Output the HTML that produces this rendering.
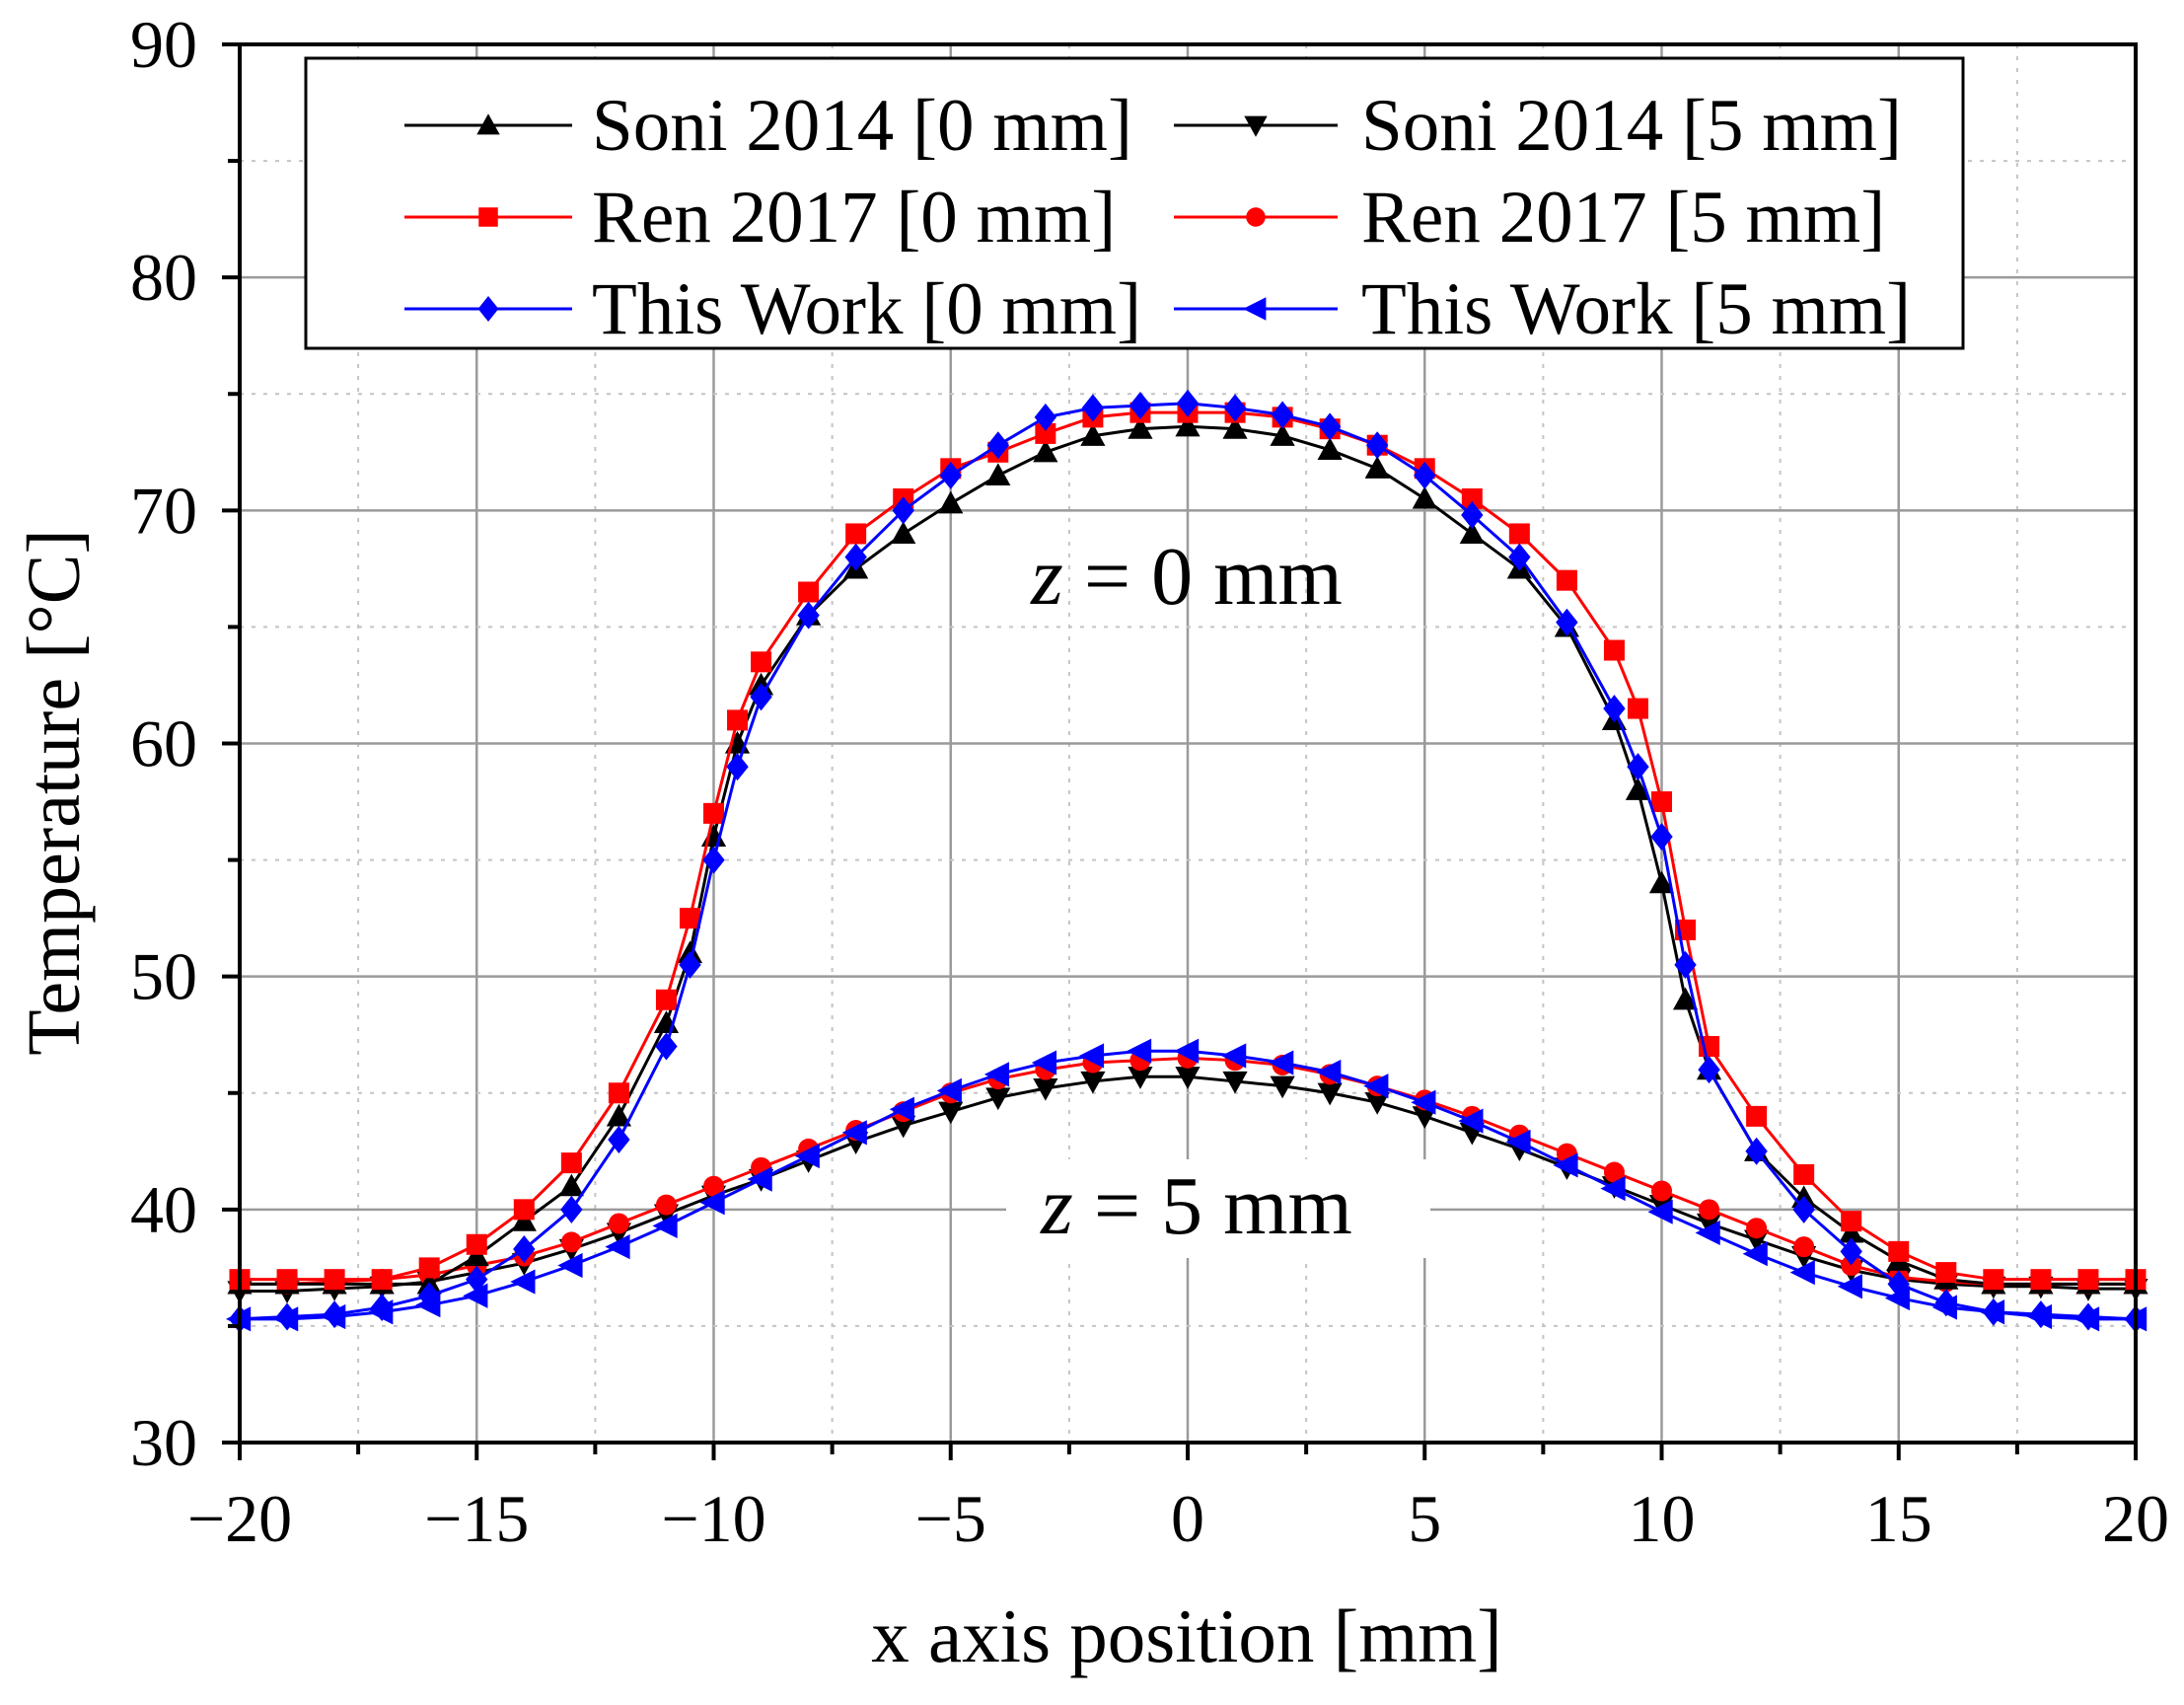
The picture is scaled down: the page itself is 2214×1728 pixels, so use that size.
<!DOCTYPE html>
<html><head><meta charset="utf-8"><style>
html,body{margin:0;padding:0;background:#fff;}
svg text{font-family:"Liberation Serif",serif;fill:#000;}
</style></head><body>
<svg id="chart" width="2214" height="1723" xmlns="http://www.w3.org/2000/svg">
<g id="grid"></g>
<g id="series"></g>
<g id="axes"></g>
<g id="legend"></g>
</svg>
<script>
const xTicks=[-20,-15,-10,-5,0,5,10,15,20];
const yTicks=[30,40,50,60,70,80,90];
const xTickLabels=["\u221220","\u221215","\u221210","\u22125","0","5","10","15","20"];
const soni0X=[-20,-19,-18,-17,-16,-15,-14,-13,-12,-11,-10.5,-10,-9.5,-9,-8,-7,-6,-5,-4,-3,-2,-1,0,1,2,3,4,5,6,7,8,9,9.5,10,10.5,11,12,13,14,15,16,17,18,19,20];
const soni0Y=[36.8,36.8,36.8,36.8,36.8,38,39.5,41,44,48,51,56,60,62.5,65.5,67.5,69,70.3,71.5,72.5,73.2,73.5,73.6,73.5,73.2,72.6,71.8,70.5,69,67.5,65,61,58,54,49,46,42.5,40.5,39,37.8,37,36.8,36.8,36.8,36.8];
const ren0X=[-20,-19,-18,-17,-16,-15,-14,-13,-12,-11,-10.5,-10,-9.5,-9,-8,-7,-6,-5,-4,-3,-2,-1,0,1,2,3,4,5,6,7,8,9,9.5,10,10.5,11,12,13,14,15,16,17,18,19,20];
const ren0Y=[37,37,37,37,37.5,38.5,40,42,45,49,52.5,57,61,63.5,66.5,69,70.5,71.8,72.5,73.3,74,74.2,74.2,74.2,74,73.5,72.8,71.8,70.5,69,67,64,61.5,57.5,52,47,44,41.5,39.5,38.2,37.3,37,37,37,37];
const work0X=[-20,-19,-18,-17,-16,-15,-14,-13,-12,-11,-10.5,-10,-9.5,-9,-8,-7,-6,-5,-4,-3,-2,-1,0,1,2,3,4,5,6,7,8,9,9.5,10,10.5,11,12,13,14,15,16,17,18,19,20];
const work0Y=[35.3,35.4,35.5,35.8,36.3,37,38.3,40,43,47,50.5,55,59,62,65.5,68,70,71.5,72.8,74,74.4,74.5,74.6,74.4,74.1,73.6,72.8,71.5,69.8,68,65.2,61.5,59,56,50.5,46,42.5,40,38.2,36.8,36,35.6,35.5,35.4,35.3];
const soni5X=[-20,-19,-18,-17,-16,-15,-14,-13,-12,-11,-10,-9,-8,-7,-6,-5,-4,-3,-2,-1,0,1,2,3,4,5,6,7,8,9,10,11,12,13,14,15,16,17,18,19,20];
const soni5Y=[36.5,36.5,36.6,36.7,36.9,37.3,37.7,38.3,39,39.8,40.6,41.3,42.1,42.9,43.6,44.2,44.8,45.2,45.5,45.7,45.7,45.5,45.3,45,44.6,44,43.3,42.6,41.8,41,40.2,39.4,38.7,38,37.4,37,36.8,36.7,36.7,36.6,36.6];
const ren5X=[-20,-19,-18,-17,-16,-15,-14,-13,-12,-11,-10,-9,-8,-7,-6,-5,-4,-3,-2,-1,0,1,2,3,4,5,6,7,8,9,10,11,12,13,14,15,16,17,18,19,20];
const ren5Y=[36.8,36.8,36.9,37,37.2,37.6,38,38.6,39.4,40.2,41,41.8,42.6,43.4,44.2,45,45.6,46,46.3,46.4,46.5,46.4,46.2,45.8,45.3,44.7,44,43.2,42.4,41.6,40.8,40,39.2,38.4,37.6,37.1,36.9,36.8,36.8,36.8,36.8];
const work5X=[-20,-19,-18,-17,-16,-15,-14,-13,-12,-11,-10,-9,-8,-7,-6,-5,-4,-3,-2,-1,0,1,2,3,4,5,6,7,8,9,10,11,12,13,14,15,16,17,18,19,20];
const work5Y=[35.3,35.3,35.4,35.6,35.9,36.3,36.9,37.6,38.4,39.3,40.3,41.3,42.3,43.3,44.3,45.1,45.8,46.3,46.6,46.8,46.8,46.6,46.3,45.9,45.3,44.6,43.8,42.9,41.9,40.9,39.9,39,38.1,37.3,36.7,36.2,35.8,35.6,35.4,35.3,35.3];

const NS="http://www.w3.org/2000/svg";
const L=243,R=2165,T=45,B=1462;
const sx=v=>L+(v+20)/40*(R-L);
const sy=v=>B-(v-30)/60*(B-T);
function mk(tag,attrs,parent){const e=document.createElementNS(NS,tag);for(const k in attrs)e.setAttribute(k,attrs[k]);parent.appendChild(e);return e;}
const grid=document.getElementById('grid'),axes=document.getElementById('axes'),ser=document.getElementById('series'),leg=document.getElementById('legend');

for(let v=-20;v<=20;v+=2.5){
  if(v===-20||v===20)continue;
  const major=(v%5===0);
  const g=mk('line',{x1:sx(v),x2:sx(v),y1:T,y2:B,stroke:major?'#9a9a9a':'#c4c4c4','stroke-width':major?2.5:2,'stroke-dasharray':major?'none':'4,8'},grid);
  
  
}
for(let v=35;v<90;v+=5){
  const major=(v%10===0);
  const g=mk('line',{x1:L,x2:R,y1:sy(v),y2:sy(v),stroke:major?'#9a9a9a':'#c4c4c4','stroke-width':major?2.5:2,'stroke-dasharray':major?'none':'4,8'},grid);
  
  
}

function marker(type,x,y,color,parent,k){
  k=k||1.4;const s=9*k;let e;
  if(type==='up')e=mk('polygon',{points:`${x},${y-s} ${x-s},${y+s*0.8} ${x+s},${y+s*0.8}`,fill:color},parent);
  else if(type==='down')e=mk('polygon',{points:`${x},${y+s} ${x-s},${y-s*0.8} ${x+s},${y-s*0.8}`,fill:color},parent);
  else if(type==='square')e=mk('rect',{x:x-7.5*k,y:y-7.5*k,width:15*k,height:15*k,fill:color},parent);
  else if(type==='circle')e=mk('circle',{cx:x,cy:y,r:7.5*k,fill:color},parent);
  else if(type==='diamond')e=mk('polygon',{points:`${x},${y-10*k} ${x+8*k},${y} ${x},${y+10*k} ${x-8*k},${y}`,fill:color},parent);
  else if(type==='left')e=mk('polygon',{points:`${x-10*k},${y} ${x+8*k},${y-9*k} ${x+8*k},${y+9*k}`,fill:color},parent);
  return e;
}
function series(name,xs,ys,color,type){
  const g=mk('g',{},ser);
  
  
  const p=mk('polyline',{points:xs.map((x,i)=>sx(x)+','+sy(ys[i])).join(' '),fill:'none',stroke:color,'stroke-width':3},g);
  
  
  xs.forEach((x,i)=>{
    const m=marker(type,sx(x),sy(ys[i]),color,g);
    
    
  });
}
series('soni-2014-5mm',soni5X,soni5Y,'#000','down');
series('ren-2017-5mm',ren5X,ren5Y,'#ff0000','circle');
series('this-work-5mm',work5X,work5Y,'#0000ff','left');
series('soni-2014-0mm',soni0X,soni0Y,'#000','up');
series('ren-2017-0mm',ren0X,ren0Y,'#ff0000','square');
series('this-work-0mm',work0X,work0Y,'#0000ff','diamond');

function ann(name,x,y,txt){
  const t=mk('text',{x:x,y:y,'font-size':84,'text-anchor':'middle'},axes);
  t.innerHTML='<tspan font-style="italic">z</tspan> = '+txt;
  
  
}
ann('z0-annotation',1203,612,'0 mm');
const bg=mk('rect',{x:1020,y:1175,width:430,height:100,fill:'#fff'},axes);


ann('z5-annotation',1213,1250,'5 mm');

const fr=mk('rect',{x:L,y:T,width:R-L,height:B-T,fill:'none',stroke:'#000','stroke-width':4},axes);


for(let v=-20;v<=20;v+=2.5){
  const major=(v%5===0);
  const t=mk('line',{x1:sx(v),x2:sx(v),y1:B,y2:B+(major?18:12),stroke:'#000','stroke-width':4},axes);
  
  
}
for(let v=30;v<=90;v+=5){
  const major=(v%10===0);
  const t=mk('line',{x1:L-(major?18:12),x2:L,y1:sy(v),y2:sy(v),stroke:'#000','stroke-width':4},axes);
  
  
}
xTicks.forEach((v,i)=>{
  const t=mk('text',{x:sx(v),y:1562,'font-size':68,'text-anchor':'middle'},axes);
  t.textContent=xTickLabels[i];
  
  
});
yTicks.forEach(v=>{
  const t=mk('text',{x:200,y:sy(v)+23,'font-size':68,'text-anchor':'end'},axes);
  t.textContent=String(v);
  
  
});
const xt=mk('text',{x:1203,y:1684,'font-size':77,'text-anchor':'middle'},axes);
xt.textContent='x axis position [mm]';


const yt=mk('text',{x:0,y:0,'font-size':76,'text-anchor':'middle',transform:'translate(80,803) rotate(-90)'},axes);
yt.textContent='Temperature [\u00B0C]';



const lb=mk('rect',{x:310,y:59,width:1680,height:294,fill:'#fff',stroke:'#000','stroke-width':3},leg);


const legNames=['Soni 2014 [0 mm]','Ren 2017 [0 mm]','This Work [0 mm]','Soni 2014 [5 mm]','Ren 2017 [5 mm]','This Work [5 mm]'];
const legColors=['#000','#ff0000','#0000ff','#000','#ff0000','#0000ff'];
const legTypes=['up','square','diamond','down','circle','left'];
const rowsY=[127,220,313];
legNames.forEach((n,i)=>{
  const col=Math.floor(i/3),row=i%3;
  const x0=col?1190:410,x1=col?1356:580,tx=col?1380:600,y=rowsY[row];
  const g=mk('g',{},leg);
  
  
  mk('line',{x1:x0,x2:x1,y1:y,y2:y,stroke:legColors[i],'stroke-width':3},g);
  marker(legTypes[i],(x0+x1)/2,y,legColors[i],g,1.3);
  const t=mk('text',{x:tx,y:y+25,'font-size':75},g);
  t.textContent=n;
});
</script>
</body></html>
